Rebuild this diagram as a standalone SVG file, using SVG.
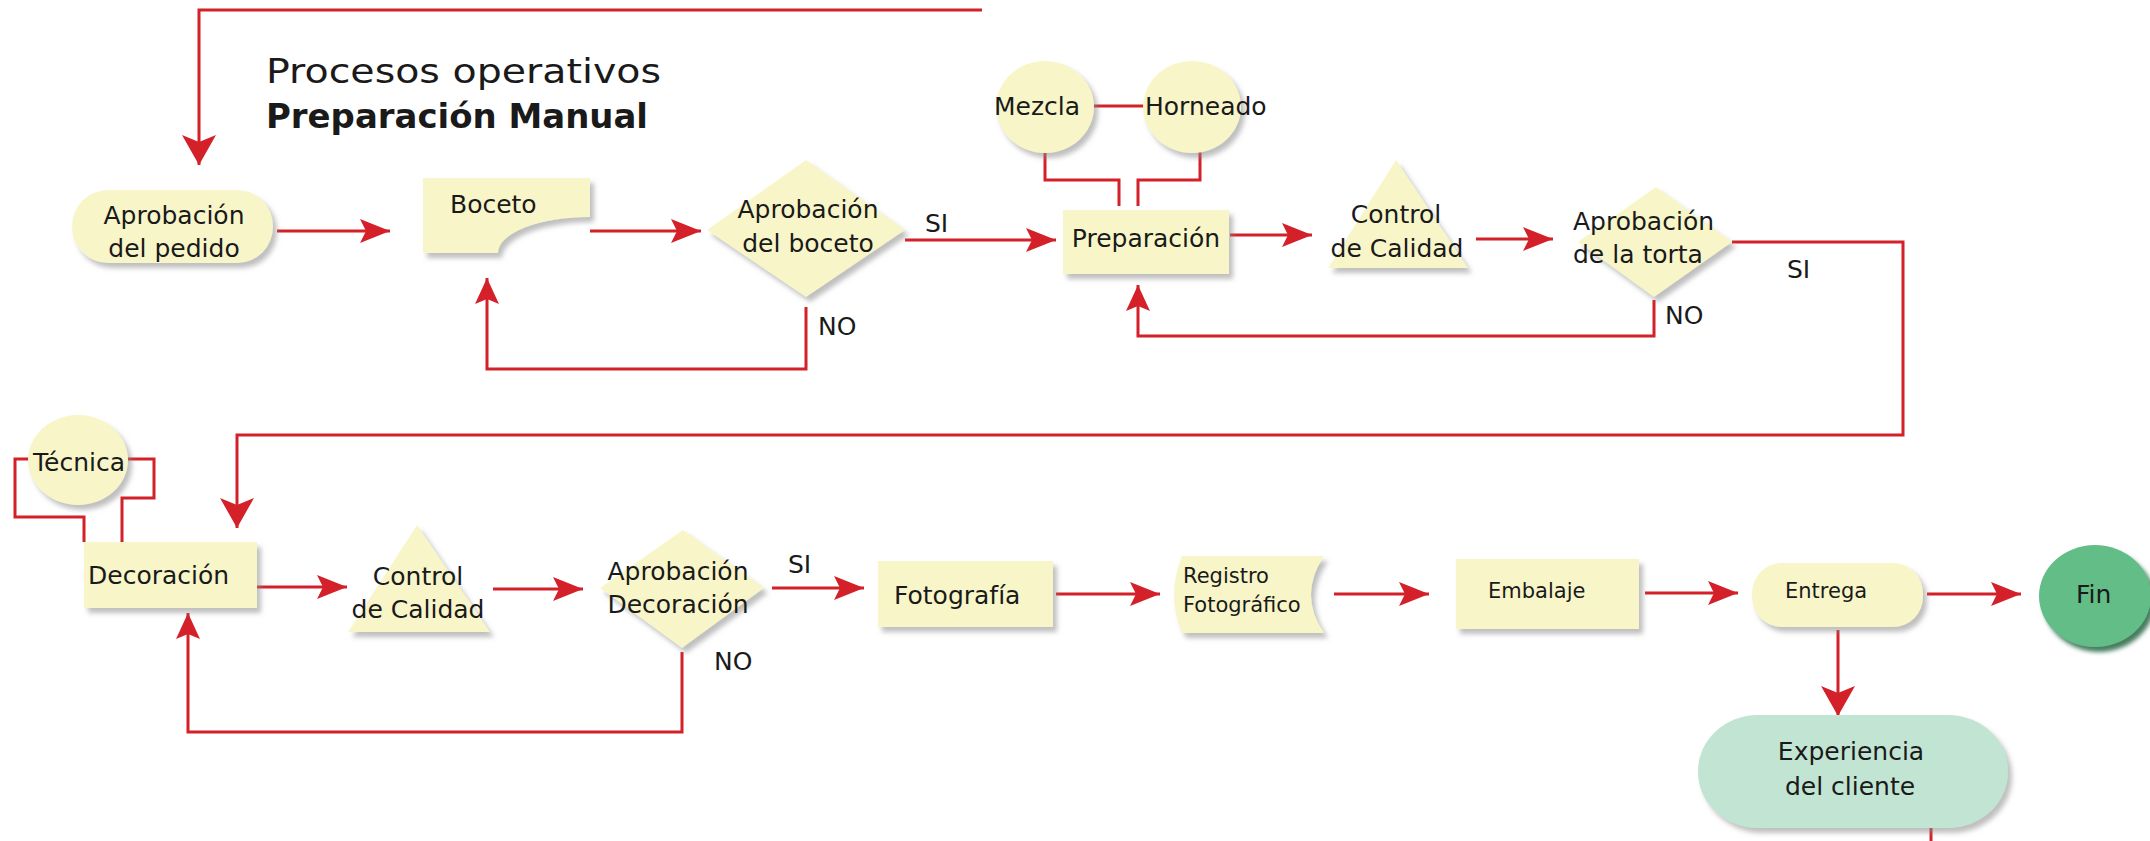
<svg xmlns="http://www.w3.org/2000/svg" width="2150" height="841" viewBox="0 0 2150 841">
  <defs>
    <filter id="shadow" x="-20%" y="-20%" width="150%" height="150%">
      <feDropShadow dx="4" dy="5" stdDeviation="2.5" flood-color="#8a8a8a" flood-opacity="0.55"/>
    </filter>
    <filter id="shadowGreen" x="-20%" y="-20%" width="150%" height="150%">
      <feDropShadow dx="4" dy="5" stdDeviation="2" flood-color="#1f5c38" flood-opacity="0.8"/>
    </filter>
    <marker id="arrow" markerUnits="userSpaceOnUse" viewBox="0 -14 32 28" markerWidth="32" markerHeight="28" refX="30" refY="0" orient="auto">
      <path d="M0,-12 L30,0 L0,12 L6,0 Z" fill="#d42029"/>
    </marker>
    <marker id="arrowBig" markerUnits="userSpaceOnUse" viewBox="0 -18 32 36" markerWidth="32" markerHeight="36" refX="30" refY="0" orient="auto">
      <path d="M0,-17 L30,0 L0,17 L7,0 Z" fill="#d42029"/>
    </marker>
    <marker id="arrowSmall" markerUnits="userSpaceOnUse" viewBox="0 -14 28 28" markerWidth="28" markerHeight="28" refX="26" refY="0" orient="auto">
      <path d="M0,-12 L26,0 L0,12 L5,0 Z" fill="#d42029"/>
    </marker>
  </defs>
  <style>
    .node { fill: #f8f6c9; filter: url(#shadow); }
    .lbl { font-family: "DejaVu Sans", "Liberation Sans", sans-serif; font-size: 25px; fill: #1a1a1a; }
    .sm { font-size: 21px; }
    .mid { text-anchor: middle; }
    .wire { fill: none; stroke: #d42029; stroke-width: 3; stroke-linejoin: miter; }
    .title { font-family: "DejaVu Sans", "Liberation Sans", sans-serif; fill: #1a1a1a; }
  </style>

  <rect width="2150" height="841" fill="#ffffff"/>

  <!-- heading -->
  <g id="heading">
    <text class="title" x="266" y="83" font-size="33" textLength="395" lengthAdjust="spacingAndGlyphs">Procesos operativos</text>
    <text class="title" x="266" y="128" font-size="33" font-weight="bold" textLength="382" lengthAdjust="spacingAndGlyphs">Preparación Manual</text>
  </g>

  <!-- connectors -->
  <g id="connectors">
    <path class="wire" d="M982,10 H199 V165" marker-end="url(#arrowBig)"/>
    <path class="wire" d="M277,231 H390" marker-end="url(#arrow)"/>
    <path class="wire" d="M590,231 H701" marker-end="url(#arrow)"/>
    <path class="wire" d="M905,240 H1056" marker-end="url(#arrow)"/>
    <path class="wire" d="M806,307 V369 H487 V278" marker-end="url(#arrowSmall)"/>
    <path class="wire" d="M1093,106 H1144"/>
    <path class="wire" d="M1045,152 V180 H1119 V206"/>
    <path class="wire" d="M1200,152 V180 H1138 V206"/>
    <path class="wire" d="M1230,235 H1312" marker-end="url(#arrow)"/>
    <path class="wire" d="M1476,239 H1553" marker-end="url(#arrow)"/>
    <path class="wire" d="M1654,300 V336 H1138 V285" marker-end="url(#arrowSmall)"/>
    <path class="wire" d="M1732,242 H1903 V435 H237 V528" marker-end="url(#arrowBig)"/>
    <path class="wire" d="M84,542 V517 H15 V459 H30"/>
    <path class="wire" d="M122,542 V498 H154 V459 H126"/>
    <path class="wire" d="M257,587 H347" marker-end="url(#arrow)"/>
    <path class="wire" d="M493,589 H583" marker-end="url(#arrow)"/>
    <path class="wire" d="M772,588 H864" marker-end="url(#arrow)"/>
    <path class="wire" d="M682,652 V732 H188 V613" marker-end="url(#arrowSmall)"/>
    <path class="wire" d="M1056,594 H1160" marker-end="url(#arrow)"/>
    <path class="wire" d="M1334,594 H1429" marker-end="url(#arrow)"/>
    <path class="wire" d="M1645,593 H1738" marker-end="url(#arrow)"/>
    <path class="wire" d="M1927,594 H2021" marker-end="url(#arrow)"/>
    <path class="wire" d="M1838,630 V716" marker-end="url(#arrowBig)"/>
    <path class="wire" d="M1931,828 V841"/>
  </g>

  <!-- edge labels -->
  <g id="edge-labels">
    <text class="lbl" x="925" y="232">SI</text>
    <text class="lbl" x="818" y="335">NO</text>
    <text class="lbl" x="1787" y="278">SI</text>
    <text class="lbl" x="1665" y="324">NO</text>
    <text class="lbl" x="788" y="573">SI</text>
    <text class="lbl" x="714" y="670">NO</text>
  </g>

  <!-- first row -->
  <g id="aprobacion-pedido">
    <rect class="node" x="72" y="190" width="201" height="73" rx="36" ry="36"/>
    <text class="lbl mid" x="174" y="224">Aprobación</text>
    <text class="lbl mid" x="174" y="257">del pedido</text>
  </g>
  <g id="boceto">
    <path class="node" d="M423,178 H590 V217 A92,36 0 0 0 498,253 H423 Z"/>
    <text class="lbl" x="450" y="213">Boceto</text>
  </g>
  <g id="aprobacion-boceto">
    <polygon class="node" points="806,160 905,230 806,297 707,230"/>
    <text class="lbl mid" x="808" y="218">Aprobación</text>
    <text class="lbl mid" x="808" y="252">del boceto</text>
  </g>
  <g id="mezcla">
    <ellipse class="node" cx="1045" cy="107" rx="49" ry="46"/>
    <text class="lbl" x="994" y="115">Mezcla</text>
  </g>
  <g id="horneado">
    <ellipse class="node" cx="1192" cy="107" rx="49" ry="46"/>
    <text class="lbl" x="1145" y="115">Horneado</text>
  </g>
  <g id="preparacion">
    <rect class="node" x="1063" y="210" width="166" height="64"/>
    <text class="lbl mid" x="1146" y="247">Preparación</text>
  </g>
  <g id="control-calidad-1">
    <polygon class="node" points="1396,160 1468,268 1328,268"/>
    <text class="lbl mid" x="1396" y="223">Control</text>
    <text class="lbl mid" x="1397" y="257">de Calidad</text>
  </g>
  <g id="aprobacion-torta">
    <polygon class="node" points="1656,187 1732,242 1654,297 1578,242"/>
    <text class="lbl" x="1573" y="230">Aprobación</text>
    <text class="lbl" x="1573" y="263">de la torta</text>
  </g>

  <!-- second row -->
  <g id="tecnica">
    <ellipse class="node" cx="78" cy="460" rx="50" ry="45"/>
    <text class="lbl" x="33" y="471">Técnica</text>
  </g>
  <g id="decoracion">
    <rect class="node" x="84" y="542" width="173" height="66"/>
    <text class="lbl" x="88" y="584">Decoración</text>
  </g>
  <g id="control-calidad-2">
    <polygon class="node" points="417,525 490,632 348,632"/>
    <text class="lbl mid" x="418" y="585">Control</text>
    <text class="lbl mid" x="418" y="618">de Calidad</text>
  </g>
  <g id="aprobacion-decoracion">
    <polygon class="node" points="683,530 764,588 682,648 600,588"/>
    <text class="lbl mid" x="678" y="580">Aprobación</text>
    <text class="lbl mid" x="678" y="613">Decoración</text>
  </g>
  <g id="fotografia">
    <rect class="node" x="878" y="561" width="175" height="66"/>
    <text class="lbl" x="894" y="604">Fotografía</text>
  </g>
  <g id="registro-fotografico">
    <path class="node" d="M1182,556 H1324 Q1298,595 1324,633 H1182 Q1166,595 1182,556 Z"/>
    <text class="lbl sm" x="1183" y="583">Registro</text>
    <text class="lbl sm" x="1183" y="612">Fotográfico</text>
  </g>
  <g id="embalaje">
    <rect class="node" x="1456" y="559" width="183" height="70"/>
    <text class="lbl sm" x="1488" y="598">Embalaje</text>
  </g>
  <g id="entrega">
    <rect class="node" x="1752" y="563" width="171" height="64" rx="30" ry="30"/>
    <text class="lbl sm" x="1785" y="598">Entrega</text>
  </g>
  <g id="fin">
    <ellipse cx="2095" cy="596" rx="56" ry="51" fill="#62bd86" filter="url(#shadowGreen)"/>
    <text class="lbl" x="2076" y="603" font-size="24">Fin</text>
  </g>
  <g id="experiencia-cliente">
    <rect x="1698" y="715" width="310" height="113" rx="60" ry="56" fill="#c1e5d2" filter="url(#shadow)"/>
    <text class="lbl mid" x="1851" y="760">Experiencia</text>
    <text class="lbl mid" x="1850" y="795">del cliente</text>
  </g>
</svg>
